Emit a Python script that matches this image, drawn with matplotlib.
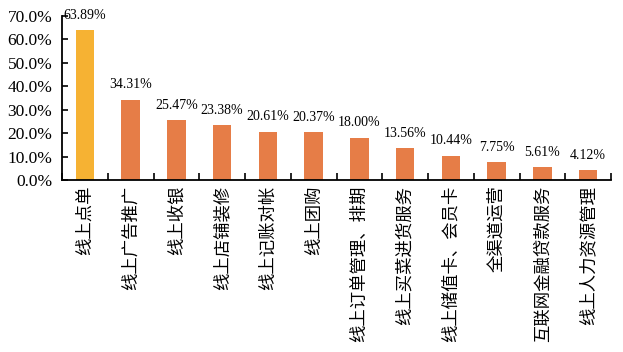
import matplotlib
matplotlib.use("Agg")
import matplotlib.pyplot as plt
from matplotlib.ticker import FuncFormatter, MultipleLocator

categories = ["线上点单", "线上广告推广", "线上收银", "线上店铺装修", "线上记账对帐", "线上团购",
              "线上订单管理、排期", "线上买菜进货服务", "线上储值卡、会员卡", "全渠道运营",
              "互联网金融贷款服务", "线上人力资源管理"]
values = [63.89, 34.31, 25.47, 23.38, 20.61, 20.37, 18.00, 13.56, 10.44, 7.75, 5.61, 4.12]
highlight_color = "#F6B233"
bar_color = "#E67D47"

fig = plt.figure(figsize=(6.23, 3.52), dpi=100)
ax = fig.add_axes([62/623, 1-180/352, (611-62)/623, (180-16)/352])

x = list(range(len(categories)))
colors = [highlight_color] + [bar_color] * (len(categories) - 1)
bars = ax.bar(x, values, width=0.4, color=colors, zorder=2)

serif = ["Liberation Serif", "DejaVu Serif"]
for xi, v in zip(x, values):
    ax.annotate(f"{v:.2f}%", (xi, v), xytext=(0, 6), textcoords="offset points",
                ha="center", va="bottom", fontsize=10, family=serif)

ax.set_xlim(-0.5, len(categories) - 0.5)
ax.set_ylim(0, 70)
ax.yaxis.set_major_locator(MultipleLocator(10))
ax.yaxis.set_major_formatter(FuncFormatter(lambda v, p: f"{v:.1f}%"))
for lab in ax.get_yticklabels():
    lab.set_fontfamily(serif)
    lab.set_fontsize(12.5)

ax.set_xticks([i + 0.5 for i in range(-1, len(categories))], minor=False)
ax.set_xticklabels([""] * (len(categories) + 1))
ax.set_xticks(x, minor=True)
ax.set_xticklabels(categories, minor=True, rotation=90, fontsize=12.5,
                   family=["Noto Sans CJK SC", "DejaVu Sans"], va="top", ha="center")
ax.tick_params(axis="x", which="minor", length=0, pad=4)
ax.tick_params(axis="x", which="major", direction="in", length=5, width=1.2)
ax.tick_params(axis="y", direction="in", length=4, width=1.2, pad=7)

for s in ["top", "right"]:
    ax.spines[s].set_visible(False)
for s in ["left", "bottom"]:
    ax.spines[s].set_linewidth(1.3)

fig.savefig("out.png", dpi=100)
